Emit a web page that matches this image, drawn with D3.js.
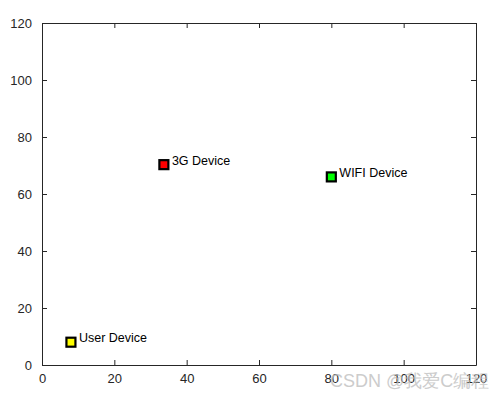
<!DOCTYPE html>
<html>
<head>
<meta charset="utf-8">
<script src="https://cdn.jsdelivr.net/npm/d3@7"></script>
<style>
body{margin:0;background:#fff;}
text{font-family:Arial,"Liberation Sans",sans-serif;}
</style>
</head>
<body>
<svg id="chart" width="503" height="399"></svg>
<script>
// device positions
var names = ["User Device", "3G Device", "WIFI Device"];
var xs = [8, 33.7, 80];
var ys = [8, 70.3, 66];
var fills = ["#ffff00", "#ff0000", "#00ff00"];
var xTicks = [0, 20, 40, 60, 80, 100, 120];
var yTicks = [0, 20, 40, 60, 80, 100, 120];

var svg = d3.select("#chart");
var m = {left: 42, right: 476, top: 23, bottom: 365};

var x = d3.scaleLinear().domain([0, 120]).range([m.left, m.right]);
var y = d3.scaleLinear().domain([0, 120]).range([m.bottom, m.top]);

svg.append("rect").attr("width", 503).attr("height", 399).attr("fill", "white");

// axes with inward ticks, box on
svg.append("g").attr("transform", "translate(0," + m.bottom + ")")
  .call(d3.axisBottom(x).tickValues(xTicks).tickSizeInner(-5).tickSizeOuter(0).tickPadding(9));
svg.append("g").attr("transform", "translate(0," + m.top + ")")
  .call(d3.axisTop(x).tickValues(xTicks).tickSizeInner(-5).tickSizeOuter(0).tickFormat(""));
svg.append("g").attr("transform", "translate(" + m.left + ",0)")
  .call(d3.axisLeft(y).tickValues(yTicks).tickSizeInner(-5).tickSizeOuter(0).tickPadding(10));
svg.append("g").attr("transform", "translate(" + m.right + ",0)")
  .call(d3.axisRight(y).tickValues(yTicks).tickSizeInner(-5).tickSizeOuter(0).tickFormat(""));

svg.selectAll(".domain").attr("stroke", "#262626").attr("stroke-width", 1);
svg.selectAll(".tick line").attr("stroke", "#262626");
svg.selectAll(".tick text").attr("font-size", "13px").attr("fill", "#262626")
  .attr("font-family", "Arial, 'Liberation Sans', sans-serif");

var pts = names.map(function(n, i){ return {name: n, x: xs[i], y: ys[i], fill: fills[i]}; });

var g = svg.selectAll("g.pt").data(pts).enter().append("g").attr("class", "pt")
  .attr("transform", function(d){ return "translate(" + x(d.x) + "," + y(d.y) + ")"; });
g.append("rect").attr("x", -4.5).attr("y", -4.5).attr("width", 9).attr("height", 9)
  .attr("fill", function(d){ return d.fill; }).attr("stroke", "black").attr("stroke-width", 2.2);
g.append("text").attr("x", 8).attr("y", 0).text(function(d){ return d.name; })
  .attr("font-size", "12.5px").attr("fill", "black");

// watermark
svg.append("text").attr("x", 330).attr("y", 387).text("CSDN @我爱C编程")
  .attr("font-size", "18px").attr("fill", "#c0c0c0").attr("opacity", 0.8)
  .attr("font-family", "'Noto Sans CJK SC', sans-serif");
</script>
</body>
</html>
